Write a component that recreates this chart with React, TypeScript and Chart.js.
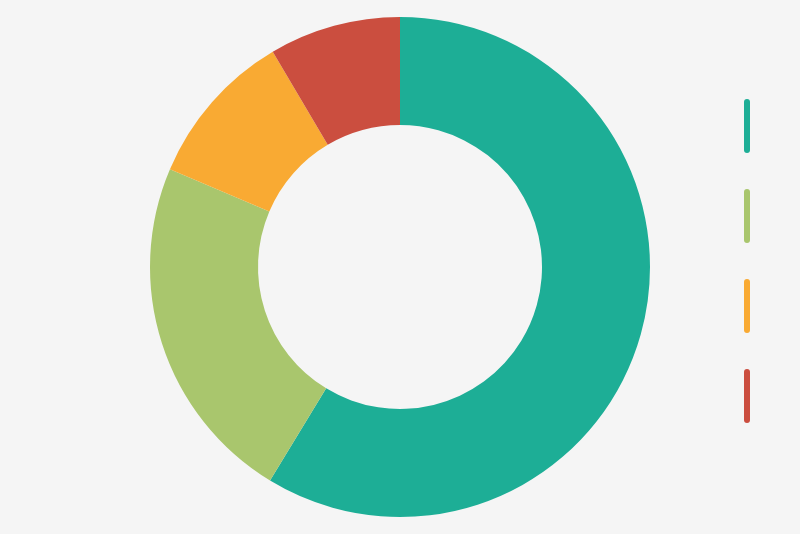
import React, { useEffect, useRef } from "react";
import { Chart, registerables } from "chart.js";

Chart.register(...registerables);

const categories = ["A", "B", "C", "D"];
const values = [58.7, 22.7, 10.1, 8.5];
const colors = ["#1dae96", "#a9c66d", "#f9aa33", "#cb4e3f"];

const lineLegend = {
  id: "lineLegend",
  afterDraw(chart: any) {
    const ctx = chart.ctx;
    const ds = chart.data.datasets[0];
    const n = chart.data.labels.length;
    ctx.save();
    ctx.lineCap = "round";
    ctx.lineWidth = 6;
    for (let i = 0; i < n; i++) {
      const y0 = 102 + i * 90;
      ctx.strokeStyle = ds.backgroundColor[i];
      ctx.beginPath();
      ctx.moveTo(747, y0);
      ctx.lineTo(747, y0 + 48);
      ctx.stroke();
    }
    ctx.restore();
  },
};

export default function App() {
  const ref = useRef<HTMLCanvasElement | null>(null);
  useEffect(() => {
    if (!ref.current) return;
    const chart = new Chart(ref.current, {
      type: "doughnut",
      data: {
        labels: categories,
        datasets: [
          {
            data: values,
            backgroundColor: colors,
            borderWidth: 0,
          },
        ],
      },
      options: {
        responsive: false,
        animation: false,
        cutout: "56.8%",
        layout: { padding: { top: 17, bottom: 17 } },
        plugins: {
          legend: { display: false },
          tooltip: { enabled: false },
        },
      },
      plugins: [lineLegend],
    });
    return () => chart.destroy();
  }, []);
  return (
    <div
      style={{
        position: "fixed",
        left: 0,
        top: 0,
        width: 800,
        height: 534,
        background: "#f5f5f5",
      }}
    >
      <canvas ref={ref} width={800} height={534} style={{ width: 800, height: 534 }} />
    </div>
  );
}
